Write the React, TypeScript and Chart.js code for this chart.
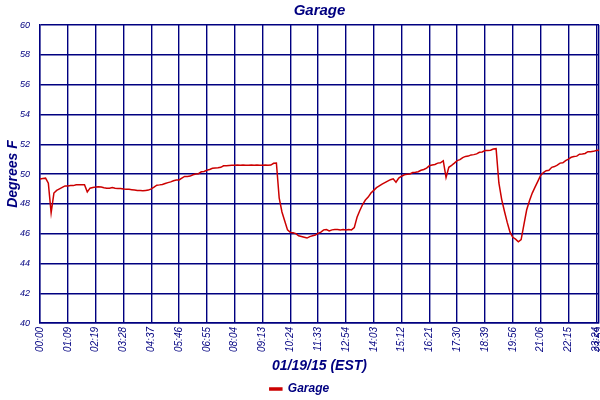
import React, { useEffect, useRef } from "react";
import { Chart, registerables } from "chart.js";

Chart.register(...registerables);

const chartTitle = "Garage";
const seriesName = "Garage";
const xAxisTitle = "01/19/15 (EST)";
const yAxisTitle = "Degrees F";

const tickIndices = [0, 10, 20, 30, 40, 50, 60, 70, 80, 90, 100, 110, 120, 130, 140, 150, 160, 170, 180, 190, 200, 201];
const tickLabels = [
  "00:00", "01:09", "02:19", "03:28", "04:37", "05:46", "06:55", "08:04", "09:13", "10:24",
  "11:33", "12:54", "14:03", "15:12", "16:21", "17:30", "18:39", "19:56", "21:06", "22:15",
  "23:24", "23:59",
];

const temperatures = [
  // 0-9
  49.66, 49.7, 49.72, 49.38, 47.4, 48.72, 48.9, 49.0, 49.1, 49.2,
  // 10-19
  49.2, 49.22, 49.22, 49.28, 49.28, 49.28, 49.28, 48.8, 49.05, 49.1,
  // 20-29
  49.12, 49.15, 49.12, 49.08, 49.05, 49.05, 49.1, 49.05, 49.03, 49.03,
  // 30-39
  49.0, 48.98, 48.97, 48.95, 48.93, 48.9, 48.9, 48.88, 48.9, 48.92,
  // 40-49
  49.0, 49.12, 49.25, 49.27, 49.3, 49.36, 49.42, 49.47, 49.55, 49.6,
  // 50-59
  49.6, 49.73, 49.84, 49.84, 49.86, 49.95, 50.0, 50.02, 50.15, 50.17,
  // 60-69
  50.25, 50.3, 50.38, 50.4, 50.42, 50.45, 50.55, 50.56, 50.57, 50.58,
  // 70-79
  50.58, 50.6, 50.58, 50.6, 50.58, 50.58, 50.6, 50.58, 50.6, 50.58,
  // 80-89
  50.58, 50.6, 50.58, 50.6, 50.72, 50.74, 48.4, 47.45, 46.85, 46.25,
  // 90-99
  46.08, 46.05, 46.0, 45.85, 45.8, 45.75, 45.7, 45.8, 45.85, 45.9,
  // 100-109
  46.02, 46.1, 46.25, 46.27, 46.18, 46.25, 46.27, 46.27, 46.25, 46.27,
  // 110-119
  46.25, 46.27, 46.25, 46.4, 47.1, 47.55, 47.95, 48.25, 48.45, 48.72,
  // 120-129
  48.9, 49.08, 49.2, 49.32, 49.42, 49.52, 49.62, 49.68, 49.45, 49.73,
  // 130-139
  49.85, 49.95, 49.98, 50.0, 50.1, 50.12, 50.15, 50.25, 50.3, 50.4,
  // 140-149
  50.55, 50.6, 50.64, 50.73, 50.75, 50.89, 49.77, 50.45, 50.58, 50.73,
  // 150-159
  50.9, 50.96, 51.1, 51.18, 51.2, 51.28, 51.3, 51.35, 51.46, 51.48,
  // 160-169
  51.57, 51.58, 51.6, 51.68, 51.7, 49.4, 48.3, 47.5, 46.75, 46.1,
  // 170-179
  45.75, 45.63, 45.45, 45.6, 46.6, 47.6, 48.2, 48.72, 49.12, 49.5,
  // 180-189
  49.9, 50.1, 50.22, 50.25, 50.45, 50.5, 50.6, 50.73, 50.75, 50.9,
  // 190-199
  51.0, 51.12, 51.17, 51.2, 51.33, 51.35, 51.38, 51.5, 51.5, 51.52,
  // 200-201
  51.58, 51.6,
];

const yMin = 40;
const yMax = 60;
const yStep = 2;

const NAVY = "#000080";
const RED = "#cc0000";
const FONT = "'Liberation Sans', Arial, sans-serif";

export default function App() {
  const canvasRef = useRef<HTMLCanvasElement | null>(null);

  useEffect(() => {
    const canvas = canvasRef.current;
    if (!canvas) return;
    const points = temperatures.map((v, i) => ({ x: i, y: v }));
    const chart = new Chart(canvas, {
      type: "line",
      data: {
        datasets: [
          {
            label: seriesName,
            data: points,
            borderColor: RED,
            backgroundColor: RED,
            borderWidth: 1.5,
            pointRadius: 0,
            tension: 0,
            fill: false,
          },
        ],
      },
      options: {
        animation: false,
        responsive: false,
        devicePixelRatio: 1,
        layout: { padding: { left: 0, right: 1, top: 0, bottom: -5 } },
        plugins: {
          title: {
            display: true,
            text: chartTitle,
            color: NAVY,
            fullSize: false,
            font: { family: FONT, size: 15, style: "italic", weight: "bold" },
            padding: { top: 2, bottom: 5 },
          },
          legend: {
            display: true,
            position: "bottom",
            labels: {
              color: NAVY,
              boxWidth: 12,
              boxHeight: 2,
              padding: 0,
              font: { family: FONT, size: 12, style: "italic", weight: "bold" },
            },
          },
          tooltip: { enabled: false },
        },
        scales: {
          x: {
            type: "linear",
            min: 0,
            max: temperatures.length - 1,
            afterBuildTicks: (scale: any) => {
              scale.ticks = tickIndices.map((v) => ({ value: v }));
            },
            afterFit: (scale: any) => {
              scale.height = 60;
              scale.paddingLeft = 0;
              scale.paddingRight = 0;
            },
            ticks: {
              autoSkip: false,
              maxRotation: 90,
              minRotation: 90,
              padding: 4,
              color: NAVY,
              font: { family: FONT, size: 10, style: "italic" },
              callback: (value: any) => {
                const idx = tickIndices.indexOf(Number(value));
                return idx >= 0 ? tickLabels[idx] : "";
              },
            },
            grid: { color: NAVY, lineWidth: 1.4, drawTicks: false },
            border: { color: NAVY, width: 1.4 },
            title: {
              display: true,
              text: xAxisTitle,
              color: NAVY,
              font: { family: FONT, size: 14, style: "italic", weight: "bold" },
              padding: { top: 2, bottom: 8 },
            },
          },
          y: {
            type: "linear",
            min: yMin,
            max: yMax,
            afterFit: (scale: any) => {
              scale.width = 40;
            },
            ticks: {
              stepSize: yStep,
              padding: 10,
              color: NAVY,
              font: { family: FONT, size: 9, style: "italic" },
            },
            grid: { color: NAVY, lineWidth: 1.4, drawTicks: false },
            border: { color: NAVY, width: 1.4 },
            title: {
              display: true,
              text: yAxisTitle,
              color: NAVY,
              font: { family: FONT, size: 14, style: "italic", weight: "bold" },
              padding: { top: 5, bottom: 2 },
            },
          },
        },
      },
    });
    return () => chart.destroy();
  }, []);

  return (
    <div style={{ position: "absolute", left: 0, top: 0, width: 600, height: 400, background: "#fff" }}>
      <canvas ref={canvasRef} width={600} height={400} style={{ display: "block" }} />
    </div>
  );
}
